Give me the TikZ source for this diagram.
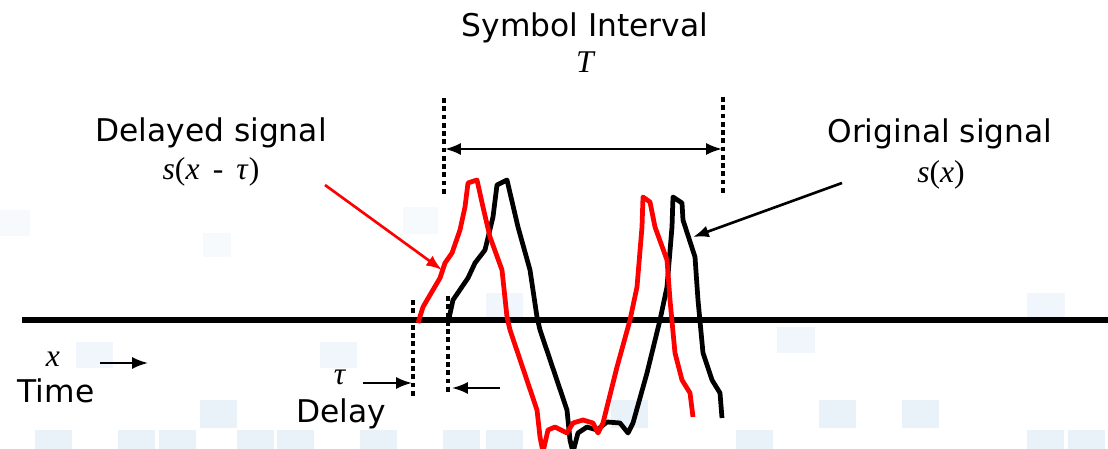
\documentclass[tikz,border=0pt]{standalone}
\usepackage{fontspec}
\setmainfont{DejaVu Sans}
\newfontfamily\timesfont{Liberation Serif}
\usetikzlibrary{arrows.meta}

\definecolor{tileA}{RGB}{234,242,249}
\definecolor{tileB}{RGB}{240,246,251}
\definecolor{tileC}{RGB}{246,250,253}

\tikzset{
  labeltext/.style={font=\fontsize{8.9}{11}\selectfont, anchor=base, inner sep=0pt},
  formula/.style={font=\timesfont\fontsize{9}{11}\selectfont, anchor=base, inner sep=0pt},
  signal/.style={line width=1.35pt, line join=round},
  marker/.style={line width=1.35pt, dash pattern=on 1.35pt off 1pt},
  pointer/.style={->, line width=0.6pt},
  tile/.style={fill=#1, draw=none},
}

\begin{document}
\begin{tikzpicture}[x=0.01cm, y=-0.01cm, >={Latex[length=4.5pt,width=3.4pt]}]

            \useasboundingbox (0,0) rectangle (1108,449);
            \clip (0,0) rectangle (1108,449);

            % Hintergrundkacheln
            \foreach \xa/\ya/\xb/\yb in {0/210/30/236, 203/233/231/257, 403/207/438/234}
            \fill[tile=tileC] (\xa,\ya) rectangle (\xb,\yb);
            \foreach \xa/\ya/\xb/\yb in {76/342/113/368, 320/342/357/368, 486/293/523/317,
                777/327/815/353, 1027/293/1065/317}
            \fill[tile=tileB] (\xa,\ya) rectangle (\xb,\yb);
            \foreach \xa in {200, 611, 819, 902}
            \fill[tile=tileA] (\xa,400) rectangle ++(37,28);
            \foreach \xa in {35, 118, 159, 237, 277, 360, 443, 486, 736, 1027, 1068}
            \fill[tile=tileA] (\xa,430) rectangle ++(37,20);

            % Zeitachse
            \draw[line width=1.5pt] (22,320) -- (1108,320);

            % Originalsignal s(x)
            \draw[signal] plot coordinates {
                (448,323) (453,300) (468,278) (475,263) (485,250) (493,217) (497,185)
                (507,180) (518,227) (530,270) (537,317) (540,330) (567,410) (570,440)
                (573,452) (578,433) (587,427) (597,430) (607,422) (620,423) (628,433)
                (633,423) (647,373) (660,320) (667,287) (672,227) (673,197) (682,203)
                (683,220) (695,257) (698,300) (703,353) (712,380) (720,393) (722,418)};

            % Verzoegertes Signal s(x - tau)
            \draw[signal, red] plot coordinates {
                (418,323) (423,307) (430,295) (440,278) (445,263) (452,253) (460,230)
                (465,207) (468,183) (477,180) (483,207) (490,237) (502,270) (507,317)
                (510,330) (537,410) (540,437) (543,452) (548,430) (555,427) (567,433)
                (573,423) (583,420) (593,423) (598,433) (603,423) (617,367) (630,320)
                (637,287) (642,227) (643,197) (650,202) (655,227) (667,260) (670,300)
                (675,353) (682,380) (690,393) (693,417)};

            % Symbolintervall T
            \draw[marker] (444,98) -- (444,197);
            \draw[marker] (723,97) -- (723,195);
            \coordinate (intL) at (445,149);
            \coordinate (intR) at (722,149);
            \draw[<->, line width=0.6pt] (intL) -- (intR);

            % Verzoegerung tau
            \draw[marker] (413,300) -- (413,397);
            \draw[marker] (448,296) -- (448,392);

            % Beschriftungen
            \node[labeltext] (symbol) at (585,37) {Symbol Interval};
            \node[formula] (period) at (585,73) {\itshape T};
            \node[labeltext] (delayed) at (211,142) {Delayed signal};
            \node[formula] (sdelayed) at (211,180) {\textit{s}(\textit{x} \,-\, \textit{τ})};
            \node[labeltext] (original) at (940,143) {Original signal};
            \node[formula] (soriginal) at (941,183) {\textit{s}(\textit{x})};
            \node[formula] (xvar) at (53,367) {\textit{x}};
            \node[labeltext] (time) at (56,403) {Time};
            \node[formula] (tau) at (340,385) {\textit{τ}};
            \node[labeltext] (delay) at (341,423) {Delay};

            % Pfeile
            \coordinate (timeA) at (100,363);
            \coordinate (timeB) at (148,363);
            \draw[pointer] (timeA) -- (timeB);

            \coordinate (tauA) at (363,383);
            \coordinate (tauB) at (412,383);
            \draw[pointer] (tauA) -- (tauB);
            \coordinate (tauC) at (500,388);
            \coordinate (tauD) at (452,388);
            \draw[pointer] (tauC) -- (tauD);

            \coordinate (redA) at (325,185);
            \coordinate (redB) at (442,270);
            \draw[pointer, red, line width=0.75pt] (redA) -- (redB);

            \coordinate (blackA) at (842,183);
            \coordinate (blackB) at (693,237);
            \draw[pointer, line width=0.75pt] (blackA) -- (blackB);

        \end{tikzpicture}
\end{document}
